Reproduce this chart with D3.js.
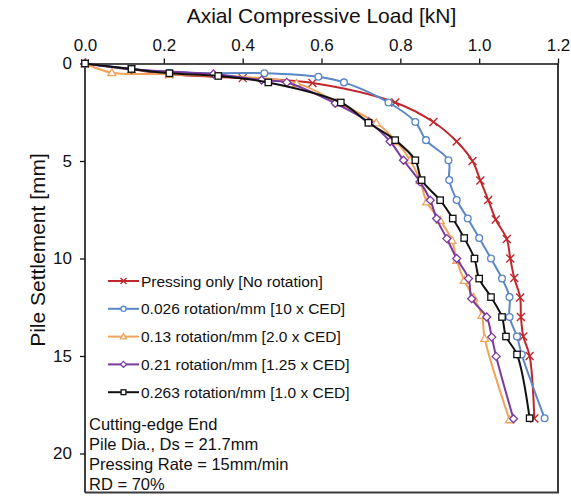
<!DOCTYPE html>
<html>
<head>
<meta charset="utf-8">
<script src="https://cdn.jsdelivr.net/npm/d3@7"></script>
<style>
  html, body { margin: 0; padding: 0; background: #fff; }
  svg { display: block; font-family: "Liberation Sans", Arial, sans-serif; }
</style>
</head>
<body>
<svg id="chart" width="571" height="497"></svg>
<script>
// Load–settlement data: axial load [kN] vs pile settlement [mm]
const seriesNames = [
  "Pressing only [No rotation]",
  "0.026 rotation/mm [10 x CED]",
  "0.13 rotation/mm [2.0 x CED]",
  "0.21 rotation/mm [1.25 x CED]",
  "0.263 rotation/mm [1.0 x CED]"
];

const settlePressing = [0, 0.3, 0.55, 0.75, 1.0, 2, 3, 4, 5, 6, 7, 8, 9, 10, 11, 12, 13, 14, 15, 18.2];
const loadPressing   = [0, 0.118, 0.214, 0.40, 0.577, 0.787, 0.884, 0.943, 0.983, 1.003, 1.023, 1.042, 1.07, 1.079, 1.089, 1.104, 1.106, 1.112, 1.128, 1.14];

const settleRot026 = [0, 0.28, 0.48, 0.5, 0.68, 0.97, 2.0, 3.0, 3.93, 4.96, 5.98, 7.0, 7.95, 8.95, 10.0, 11.03, 11.98, 13.0, 14.0, 14.92, 18.19];
const loadRot026   = [0, 0.118, 0.214, 0.455, 0.592, 0.657, 0.770, 0.838, 0.865, 0.922, 0.924, 0.943, 0.971, 1.0, 1.030, 1.058, 1.077, 1.077, 1.096, 1.108, 1.166];

const settleRot13 = [0, 0.47, 0.55, 1.02, 2.0, 3.04, 4.0, 4.96, 6.0, 7.1, 8.04, 9.07, 10.09, 11.12, 12.0, 12.92, 14.1, 18.27];
const loadRot13   = [0, 0.068, 0.214, 0.537, 0.639, 0.739, 0.79, 0.825, 0.85, 0.867, 0.901, 0.931, 0.943, 0.962, 0.986, 1.007, 1.014, 1.077];

const settleRot21 = [0, 0.3, 0.54, 0.85, 0.97, 2.04, 3.0, 4.0, 4.96, 6.07, 7.01, 7.95, 8.98, 10.0, 11.03, 12.06, 13.0, 14.03, 15.02, 18.22];
const loadRot21   = [0, 0.118, 0.326, 0.448, 0.512, 0.635, 0.72, 0.774, 0.808, 0.85, 0.876, 0.892, 0.918, 0.943, 0.973, 0.981, 1.019, 1.032, 1.043, 1.087];

const settleRot263 = [0, 0.28, 0.5, 0.64, 0.97, 2.0, 3.04, 3.93, 4.96, 5.98, 7.01, 7.95, 8.95, 10.0, 11.03, 11.98, 13.0, 14.0, 14.92, 18.19];
const loadRot263   = [0, 0.118, 0.214, 0.338, 0.465, 0.649, 0.719, 0.787, 0.838, 0.854, 0.901, 0.933, 0.962, 0.988, 1.0, 1.03, 1.058, 1.068, 1.096, 1.128];

const xTicks = [0, 0.2, 0.4, 0.6, 0.8, 1.0, 1.2];
const yTicks = [0, 5, 10, 15, 20];

const noteLines = [
  "Cutting-edge End",
  "Pile Dia., Ds = 21.7mm",
  "Pressing Rate = 15mm/min",
  "RD = 70%"
];

const colors  = ["#c0272d", "#5b87c4", "#f0a35a", "#7b3a9e", "#111111"];
const symbols = ["cross", "circle", "triangle", "diamond", "square"];

const series = [
  [loadPressing, settlePressing],
  [loadRot026, settleRot026],
  [loadRot13, settleRot13],
  [loadRot21, settleRot21],
  [loadRot263, settleRot263]
].map(([ld, st], i) => ({
  name: seriesNames[i], color: colors[i], symbol: symbols[i],
  points: ld.map((v, k) => ({ load: v, settle: st[k] }))
}));

const svg = d3.select("#chart");
const plot = { left: 85, top: 63.5, right: 558, bottom: 492.5 };

const x = d3.scaleLinear().domain([0, 1.2]).range([plot.left, plot.right]);
const y = d3.scaleLinear().domain([0, 22]).range([plot.top, plot.bottom]);

// plot frame (right and bottom edges)
svg.append("path")
  .attr("d", `M${plot.right},${plot.top}V${plot.bottom}H${plot.left}`)
  .attr("fill", "none").attr("stroke", "#3a3a3a").attr("stroke-width", 2);

// top axis
const gx = svg.append("g").attr("transform", `translate(0,${plot.top})`)
  .call(d3.axisTop(x).tickValues(xTicks).tickFormat(d3.format(".1f"))
    .tickSize(5).tickSizeOuter(0).tickPadding(8));
// left axis
const gy = svg.append("g").attr("transform", `translate(${plot.left},0)`)
  .call(d3.axisLeft(y).tickValues(yTicks).tickSize(5).tickSizeOuter(0).tickPadding(8));

[gx, gy].forEach(g => {
  g.select(".domain").attr("stroke", "#111").attr("stroke-width", 1.6);
  g.selectAll(".tick line").attr("stroke", "#111").attr("stroke-width", 1.3);
  g.selectAll(".tick text").attr("fill", "#111")
    .style("font-family", "'Liberation Sans', Arial, sans-serif").style("font-size", "17px");
});
gy.select(".domain").attr("d", `M0,${plot.top}V${plot.bottom}`);

// axis titles
svg.append("text").attr("x", (plot.left + plot.right) / 2).attr("y", 23)
  .attr("text-anchor", "middle").attr("font-size", 21).attr("fill", "#111")
  .text("Axial Compressive Load [kN]");
svg.append("text")
  .attr("transform", `translate(45,${250}) rotate(-90)`)
  .attr("text-anchor", "middle").attr("font-size", 21).attr("fill", "#111")
  .text("Pile Settlement [mm]");

// marker shapes
function marker(g, symbol, color, size) {
  const h = size / 2;
  if (symbol === "cross") {
    g.append("path").attr("d", `M${-h},${-h}L${h},${h}M${-h},${h}L${h},${-h}`)
      .attr("stroke", color).attr("stroke-width", 1.4).attr("fill", "none");
  } else if (symbol === "circle") {
    g.append("circle").attr("r", h * 0.85)
      .attr("fill", "#fff").attr("stroke", color).attr("stroke-width", 1.3);
  } else if (symbol === "triangle") {
    g.append("path").attr("d", `M0,${-h}L${h},${h * 0.75}L${-h},${h * 0.75}Z`)
      .attr("fill", "#fff").attr("stroke", color).attr("stroke-width", 1.3);
  } else if (symbol === "diamond") {
    g.append("path").attr("d", `M0,${-h}L${h},0L0,${h}L${-h},0Z`)
      .attr("fill", "#fff").attr("stroke", color).attr("stroke-width", 1.3);
  } else {
    g.append("rect").attr("x", -h * 0.8).attr("y", -h * 0.8)
      .attr("width", h * 1.6).attr("height", h * 1.6)
      .attr("fill", "#fff").attr("stroke", color).attr("stroke-width", 1.3);
  }
}

const line = d3.line()
  .x(d => x(d.load)).y(d => y(d.settle))
  .curve(d3.curveCatmullRom.alpha(0.5));

series.forEach(s => {
  const g = svg.append("g");
  g.append("path").datum(s.points).attr("d", line)
    .attr("fill", "none").attr("stroke", s.color).attr("stroke-width", 2);
  g.selectAll("g.pt").data(s.points).join("g").attr("class", "pt")
    .attr("transform", d => `translate(${x(d.load)},${y(d.settle)})`)
    .each(function () { marker(d3.select(this), s.symbol, s.color, 8); });
});

// legend
const legend = svg.append("g");
series.forEach((s, i) => {
  const ly = 281 + i * 27.8;
  legend.append("line").attr("x1", 108).attr("x2", 139).attr("y1", ly).attr("y2", ly)
    .attr("stroke", s.color).attr("stroke-width", 2);
  const m = legend.append("g").attr("transform", `translate(123.5,${ly})`);
  marker(m, s.symbol, s.color, 6);
  legend.append("text").attr("x", 141).attr("y", ly + 5.5)
    .attr("font-size", 15.5).attr("fill", "#111").text(s.name);
});

// test conditions
noteLines.forEach((t, i) => {
  svg.append("text").attr("x", 89).attr("y", 430 + i * 20)
    .attr("font-size", 16.5).attr("fill", "#111").text(t);
});
</script>
</body>
</html>
